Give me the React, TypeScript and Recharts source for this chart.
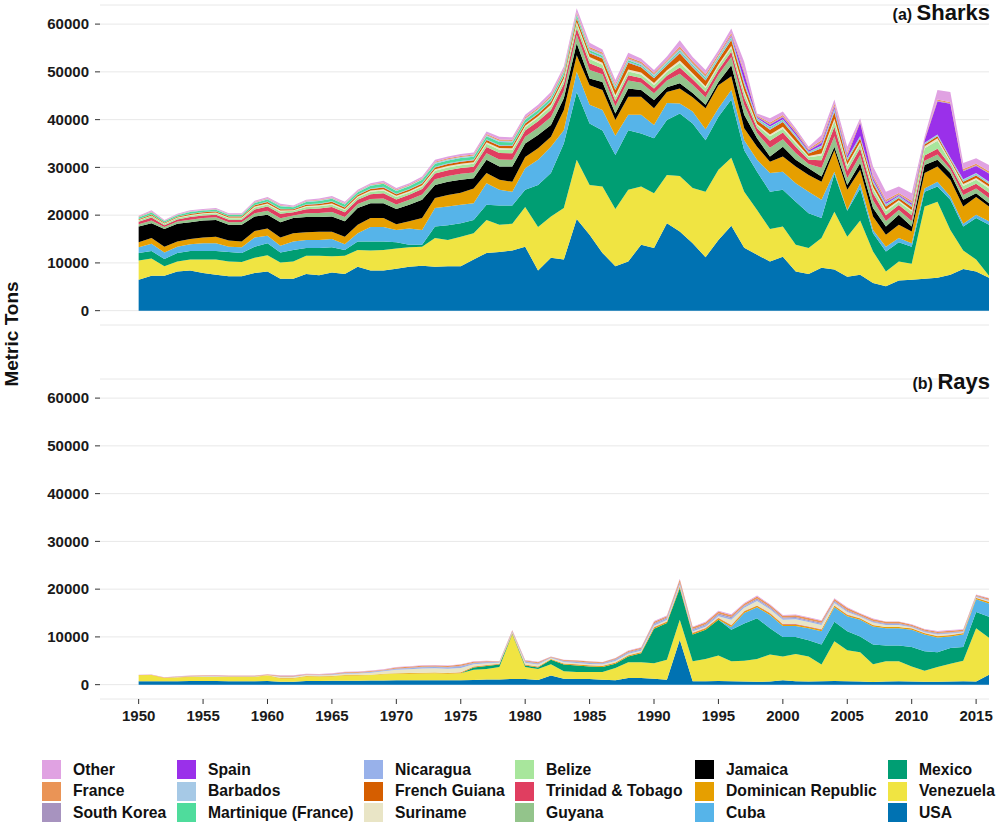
import { AreaChart, Area, XAxis, YAxis, CartesianGrid } from 'recharts';

const FONT = '"Liberation Sans", Arial, Helvetica, sans-serif';

const YEARS = [
  1950, 1951, 1952, 1953, 1954, 1955, 1956, 1957, 1958, 1959,
  1960, 1961, 1962, 1963, 1964, 1965, 1966, 1967, 1968, 1969,
  1970, 1971, 1972, 1973, 1974, 1975, 1976, 1977, 1978, 1979,
  1980, 1981, 1982, 1983, 1984, 1985, 1986, 1987, 1988, 1989,
  1990, 1991, 1992, 1993, 1994, 1995, 1996, 1997, 1998, 1999,
  2000, 2001, 2002, 2003, 2004, 2005, 2006, 2007, 2008, 2009,
  2010, 2011, 2012, 2013, 2014, 2015, 2016,
];
const X_TICKS = [1950, 1955, 1960, 1965, 1970, 1975, 1980, 1985, 1990, 1995, 2000, 2005, 2010, 2015];
const Y_TICKS = [0, 10000, 20000, 30000, 40000, 50000, 60000];

// stacking order, bottom first
const COUNTRIES = [
  'USA', 'Venezuela', 'Mexico', 'Cuba', 'Dominican Republic', 'Jamaica', 'Guyana',
  'Trinidad & Tobago', 'Belize', 'Suriname', 'French Guiana', 'Nicaragua',
  'Martinique (France)', 'Barbados', 'Spain', 'South Korea', 'France', 'Other',
];

const COLORS: Record<string, string> = {
  'USA': '#0072b2',
  'Venezuela': '#f0e442',
  'Mexico': '#009e73',
  'Cuba': '#56b4e9',
  'Dominican Republic': '#e69f00',
  'Jamaica': '#000000',
  'Guyana': '#93c48b',
  'Trinidad & Tobago': '#e03e60',
  'Belize': '#a8e69c',
  'Suriname': '#e9e5c6',
  'French Guiana': '#d55e00',
  'Nicaragua': '#98b1ea',
  'Martinique (France)': '#4fdc9c',
  'Barbados': '#a6c9e6',
  'Spain': '#9a30ea',
  'South Korea': '#a793bf',
  'France': '#ea9456',
  'Other': '#e0a2e2',
};

// ---- Sharks (metric tons) ----
const SHARK_USA = [
  6500, 7300, 7300, 8200, 8400, 7900, 7500, 7200, 7200, 7900,
  8200, 6700, 6700, 7700, 7400, 8000, 7700, 9200, 8400, 8400,
  8800, 9200, 9400, 9200, 9300, 9300, 10700, 12100, 12300, 12600,
  13400, 8400, 11100, 10700, 19200, 15900, 12100, 9300, 10300, 13800,
  13100, 18300, 16600, 14100, 11200, 14800, 17800, 13200, 11700, 10300,
  11300, 8200, 7700, 9000, 8600, 7100, 7500, 5800, 5100, 6300,
  6500, 6700, 6900, 7500, 8700, 8200, 6900,
];
const SHARK_VENEZUELA = [
  4000, 3600, 2000, 2100, 2300, 2800, 3200, 3100, 3000, 3200,
  3400, 3400, 3600, 3800, 4100, 3400, 3800, 3500, 4200, 4300,
  4200, 4100, 4000, 6000, 5500, 6200, 5500, 6900, 5700, 5600,
  8300, 9100, 8600, 10800, 12400, 10400, 13900, 12000, 15000, 12200,
  11500, 10100, 11600, 11600, 13700, 14700, 14200, 11700, 9400, 6800,
  6300, 5600, 5400, 6200, 12100, 8400, 11400, 6600, 3100, 4000,
  3300, 15100, 15900, 9400, 3900, 2500, 400,
];
const SHARK_MEXICO = [
  1600, 1600, 1500, 1800, 1800, 1800, 1800, 2000, 1900, 2300,
  2500, 2100, 2400, 1600, 1600, 1900, 1200, 1800, 1900, 1800,
  1300, 500, 400, 2400, 3100, 2800, 2800, 3200, 4000, 3800,
  3600, 8800, 9100, 13500, 14200, 12900, 11700, 11300, 12500, 11100,
  11500, 11500, 13100, 13500, 10800, 11100, 12200, 8700, 8000, 7800,
  7700, 9000, 7300, 4200, 7900, 5400, 6700, 3800, 4200, 4000,
  3600, 3100, 3200, 6300, 5000, 8700, 10700,
];
const SHARK_CUBA = [
  1200, 1500, 1400, 1300, 1400, 1600, 1600, 1100, 1200, 1900,
  1600, 1400, 1800, 1700, 1700, 1700, 1200, 1700, 3000, 3000,
  2600, 3400, 3100, 3900, 3900, 3900, 3500, 4500, 3300, 2900,
  4500, 5300, 5500, 2800, 4200, 3900, 4300, 4000, 3200, 3900,
  2800, 3600, 2100, 2500, 2300, 1800, 2000, 2100, 2500, 3900,
  3800, 3900, 4500, 3800, 500, 200, 1100, 700, 1000, 900,
  700, 700, 1000, 700, 600, 700, 700,
];
const SHARK_DOMINICAN = [
  1000, 1200, 1200, 1100, 1100, 1200, 1400, 1300, 1200, 1400,
  1500, 1700, 1700, 1600, 1700, 1500, 1600, 1800, 1900, 1900,
  1200, 1500, 2500, 2100, 2400, 2500, 3100, 2100, 2100, 2100,
  2400, 2400, 2100, 4200, 3500, 4100, 4200, 3300, 3800, 3800,
  3500, 2300, 3100, 3000, 4400, 4800, 2900, 2500, 2700, 2400,
  3200, 3500, 3500, 3800, 4500, 4200, 2800, 2800, 2500, 2800,
  2500, 3200, 3200, 3500, 3600, 3700, 3100,
];
const SHARK_JAMAICA = [
  3300, 3100, 3700, 3700, 3500, 3600, 3500, 3300, 3500, 3000,
  2900, 3200, 3200, 3200, 3100, 3200, 3200, 3500, 3100, 3100,
  3200, 3500, 3800, 2700, 2800, 2700, 2100, 2800, 2800, 3200,
  2800, 2800, 2500, 2500, 2500, 1400, 1700, 1400, 1700, 1400,
  1700, 1000, 1100, 900, 700, 700, 2300, 2800, 1800, 1100,
  2000, 1400, 1400, 1100, 700, 1000, 1400, 1800, 1700, 2100,
  1000, 1700, 1400, 1400, 1400, 800, 700,
];
const SHARK_GUYANA = [
  500, 600, 400, 450, 550, 500, 550, 500, 550, 700,
  800, 850, 550, 800, 850, 950, 900, 850, 900, 1000,
  950, 1000, 1100, 1200, 1200, 1250, 1250, 1350, 1450, 1400,
  1400, 1500, 1650, 1550, 1750, 1800, 1600, 1500, 1700, 1500,
  1400, 1400, 2000, 1700, 1600, 1500, 1700, 2100, 1100, 1800,
  1600, 1400, 900, 1800, 2200, 1500, 1700, 1600, 1200, 1000,
  1200, 900, 1100, 800, 1000, 1000, 1100,
];
const SHARK_TRINIDAD = [
  500, 600, 400, 450, 550, 550, 550, 550, 500, 800,
  900, 950, 650, 850, 950, 1050, 1000, 900, 1000, 1100,
  1050, 1050, 1150, 1200, 1200, 1200, 1200, 1300, 1350, 1350,
  1300, 1350, 1450, 1400, 1400, 1400, 1200, 1100, 1100, 1000,
  1000, 1000, 1300, 1150, 1100, 1000, 1100, 1500, 1000, 1500,
  1400, 1300, 900, 1600, 2000, 1500, 1400, 1500, 1200, 1000,
  1200, 1100, 1200, 800, 1100, 1000, 1100,
];
const SHARK_BELIZE = [
  300, 350, 250, 300, 300, 300, 300, 300, 300, 400,
  450, 450, 300, 450, 450, 500, 500, 450, 500, 550,
  500, 500, 550, 600, 600, 600, 600, 700, 700, 700,
  700, 750, 800, 800, 900, 900, 800, 800, 800, 750,
  750, 750, 1000, 850, 800, 750, 850, 1000, 600, 900,
  800, 700, 500, 1000, 1200, 900, 900, 900, 800, 700,
  800, 1500, 1700, 700, 800, 800, 900,
];
const SHARK_SURINAME = [
  100, 100, 100, 100, 150, 150, 150, 150, 150, 200,
  200, 200, 150, 200, 200, 250, 200, 200, 250, 250,
  250, 250, 250, 300, 300, 300, 300, 300, 350, 350,
  300, 300, 350, 350, 400, 400, 400, 400, 400, 400,
  400, 400, 500, 400, 400, 400, 400, 500, 300, 400,
  400, 400, 300, 400, 500, 400, 400, 400, 400, 300,
  300, 400, 500, 300, 400, 400, 400,
];
const SHARK_FRENCH_GUIANA = [
  150, 200, 150, 150, 200, 200, 200, 200, 200, 250,
  300, 300, 200, 300, 300, 350, 300, 300, 350, 400,
  350, 350, 400, 400, 400, 450, 450, 500, 500, 500,
  500, 550, 600, 600, 700, 800, 900, 1100, 1400, 1100,
  1000, 1000, 1500, 1200, 1200, 1000, 1200, 1200, 700, 1000,
  1000, 900, 500, 1100, 1400, 800, 800, 800, 600, 500,
  600, 400, 400, 300, 500, 500, 500,
];
const SHARK_NICARAGUA = [
  50, 50, 50, 50, 50, 50, 50, 50, 50, 100,
  100, 100, 50, 100, 100, 100, 100, 100, 100, 150,
  100, 150, 150, 150, 150, 150, 150, 150, 150, 150,
  150, 150, 200, 200, 200, 200, 200, 200, 200, 200,
  200, 200, 300, 250, 250, 200, 250, 300, 200, 250,
  250, 200, 150, 250, 300, 200, 200, 200, 200, 150,
  200, 150, 200, 150, 200, 200, 200,
];
const SHARK_MARTINIQUE = [
  300, 350, 250, 300, 350, 300, 350, 300, 300, 400,
  450, 500, 350, 450, 500, 550, 550, 500, 550, 600,
  550, 550, 600, 600, 600, 600, 600, 600, 600, 600,
  600, 550, 550, 500, 500, 450, 400, 400, 350, 300,
  300, 300, 300, 300, 300, 300, 300, 300, 200, 250,
  200, 200, 150, 200, 200, 200, 150, 200, 200, 150,
  150, 100, 100, 100, 150, 150, 150,
];
const SHARK_BARBADOS = [
  100, 100, 100, 100, 100, 100, 100, 100, 100, 100,
  150, 150, 100, 150, 150, 150, 150, 150, 150, 150,
  150, 150, 150, 200, 200, 200, 200, 200, 200, 200,
  200, 200, 200, 200, 200, 200, 200, 200, 200, 200,
  200, 200, 200, 200, 200, 200, 200, 200, 150, 150,
  150, 150, 100, 150, 200, 150, 100, 150, 150, 100,
  100, 100, 100, 100, 150, 150, 150,
];
const SHARK_SPAIN = [
  0, 0, 0, 0, 0, 0, 0, 0, 0, 0,
  0, 0, 0, 0, 0, 0, 0, 0, 0, 0,
  0, 0, 0, 0, 0, 0, 0, 0, 0, 0,
  0, 0, 0, 0, 0, 0, 0, 0, 0, 0,
  0, 0, 0, 0, 0, 0, 200, 1500, 200, 400,
  400, 400, 250, 500, 400, 500, 2850, 500, 300, 200,
  300, 500, 6900, 11300, 1700, 1500, 1700,
];
const SHARK_SOUTH_KOREA = [
  0, 0, 0, 0, 0, 0, 0, 0, 0, 0,
  0, 0, 0, 0, 0, 0, 0, 0, 0, 0,
  0, 0, 0, 50, 50, 50, 50, 100, 100, 100,
  100, 100, 100, 100, 150, 150, 150, 150, 150, 150,
  150, 150, 200, 150, 150, 150, 150, 200, 100, 150,
  150, 150, 100, 200, 200, 200, 100, 200, 200, 150,
  200, 100, 150, 100, 150, 150, 150,
];
const SHARK_FRANCE = [
  100, 100, 50, 50, 50, 50, 50, 50, 50, 100,
  100, 100, 50, 100, 100, 100, 100, 100, 100, 150,
  150, 150, 150, 200, 200, 200, 200, 200, 250, 250,
  250, 250, 300, 300, 300, 300, 300, 300, 300, 300,
  300, 300, 400, 400, 400, 350, 400, 400, 200, 300,
  300, 300, 200, 400, 500, 400, 200, 400, 350, 300,
  350, 200, 250, 200, 300, 300, 350,
];
const SHARK_OTHER = [
  200, 250, 150, 150, 200, 200, 200, 200, 200, 250,
  250, 300, 200, 200, 300, 300, 300, 250, 300, 350,
  350, 350, 400, 400, 400, 400, 400, 500, 550, 500,
  500, 600, 700, 600, 800, 900, 650, 850, 900, 700,
  600, 700, 1300, 900, 900, 750, 950, 1900, 450, 900,
  750, 500, 450, 1100, 800, 1250, 600, 1850, 1700, 1350,
  1600, 450, 2000, 2150, 1250, 1150, 1300,
];

// ---- Rays (metric tons) ----
const RAY_USA = [
  700, 700, 700, 700, 750, 750, 750, 700, 700, 700,
  750, 600, 600, 750, 750, 800, 800, 800, 850, 850,
  900, 900, 950, 950, 900, 900, 1000, 1100, 1100, 1200,
  1200, 1000, 1900, 1250, 1200, 1200, 1050, 900, 1400, 1400,
  1250, 1050, 9400, 700, 700, 750, 700, 650, 600, 650,
  900, 700, 650, 700, 750, 700, 650, 550, 650, 700,
  650, 600, 600, 650, 700, 650, 2100,
];
const RAY_VENEZUELA = [
  1250, 1300, 700, 800, 850, 850, 850, 900, 900, 900,
  1150, 700, 700, 950, 900, 900, 1100, 1100, 1150, 1350,
  1400, 1400, 1400, 1450, 1400, 1500, 2100, 2200, 2600, 9300,
  2500, 2300, 2400, 1550, 1450, 1450, 1600, 2600, 3300, 3300,
  3250, 4150, 4200, 4200, 4700, 5350, 4200, 4350, 4800, 5650,
  5000, 5700, 5250, 3500, 8350, 6500, 6150, 3750, 4250, 4200,
  3150, 2300, 3100, 3750, 4300, 11150, 7700,
];
const RAY_MEXICO = [
  0, 0, 0, 0, 0, 0, 0, 0, 0, 0,
  0, 0, 0, 0, 0, 0, 0, 0, 0, 0,
  0, 0, 0, 0, 0, 0, 500, 600, 500, 100,
  300, 300, 900, 1400, 1350, 1150, 1050, 900, 1200, 1900,
  7200, 7700, 6600, 5600, 6100, 7500, 6600, 7800, 8500, 5500,
  4100, 3600, 3400, 4200, 4100, 4000, 3300, 4100, 3300, 3300,
  4100, 4100, 3100, 3300, 2900, 3400, 4400,
];
const RAY_CUBA = [
  0, 0, 0, 0, 0, 0, 0, 0, 0, 0,
  0, 0, 0, 0, 0, 0, 0, 0, 0, 0,
  0, 0, 0, 0, 0, 0, 0, 0, 0, 0,
  0, 0, 0, 0, 0, 0, 0, 0, 0, 0,
  0, 0, 0, 0, 0, 0, 600, 2200, 2300, 2800,
  2300, 2300, 2500, 2800, 3000, 3100, 3500, 3800, 3600, 3600,
  3600, 3500, 3100, 2400, 2600, 2700, 2800,
];
const RAY_DOMINICAN = [
  50, 50, 50, 50, 50, 50, 50, 50, 50, 50,
  50, 100, 100, 100, 100, 100, 100, 100, 100, 100,
  100, 150, 150, 150, 150, 150, 150, 150, 150, 150,
  150, 150, 150, 200, 200, 200, 200, 200, 200, 200,
  250, 250, 300, 250, 250, 300, 300, 300, 300, 300,
  300, 300, 300, 300, 300, 300, 250, 250, 250, 250,
  250, 250, 250, 250, 250, 250, 300,
];
const RAY_TRINIDAD = [
  0, 0, 0, 0, 0, 0, 0, 0, 0, 0,
  0, 0, 0, 0, 0, 0, 0, 0, 0, 0,
  0, 0, 0, 0, 0, 50, 50, 50, 50, 50,
  50, 50, 50, 50, 50, 50, 50, 50, 50, 50,
  100, 100, 100, 100, 100, 100, 100, 100, 100, 100,
  100, 100, 100, 100, 100, 100, 50, 50, 50, 50,
  50, 50, 50, 50, 50, 50, 50,
];
const RAY_SURINAME = [
  0, 0, 0, 50, 50, 100, 100, 50, 50, 50,
  50, 200, 200, 200, 200, 250, 300, 350, 400, 500,
  700, 800, 900, 900, 900, 900, 500, 400, 200, 150,
  400, 400, 200, 300, 300, 300, 300, 300, 300, 250,
  300, 300, 300, 300, 300, 300, 1100, 700, 900, 800,
  900, 1000, 900, 900, 500, 500, 300, 500, 400, 400,
  200, 200, 300, 300, 200, 150, 200,
];
const RAY_NICARAGUA = [
  0, 0, 0, 50, 50, 50, 50, 50, 50, 50,
  50, 100, 100, 100, 100, 100, 100, 100, 150, 150,
  200, 200, 250, 250, 250, 300, 200, 150, 100, 150,
  200, 200, 100, 150, 200, 200, 200, 250, 250, 250,
  300, 300, 350, 300, 300, 350, 300, 300, 300, 250,
  250, 250, 250, 250, 250, 250, 200, 200, 200, 200,
  150, 150, 150, 150, 150, 150, 150,
];
const RAY_SOUTH_KOREA = [
  0, 0, 0, 0, 0, 0, 0, 0, 0, 0,
  0, 0, 0, 0, 0, 50, 50, 50, 50, 50,
  100, 100, 100, 100, 100, 150, 100, 100, 50, 100,
  100, 100, 50, 100, 100, 100, 100, 150, 150, 150,
  200, 200, 250, 200, 200, 250, 250, 200, 250, 250,
  200, 200, 200, 200, 200, 200, 150, 150, 150, 150,
  150, 150, 150, 150, 100, 100, 100,
];
const RAY_FRANCE = [
  50, 50, 50, 50, 100, 100, 100, 100, 100, 100,
  100, 150, 150, 100, 100, 100, 150, 150, 150, 150,
  200, 200, 200, 200, 200, 250, 200, 150, 100, 150,
  150, 200, 100, 150, 200, 200, 150, 200, 200, 250,
  350, 300, 500, 350, 350, 400, 400, 350, 400, 400,
  400, 400, 400, 400, 400, 400, 300, 350, 300, 300,
  250, 250, 300, 300, 250, 200, 250,
];
const RAY_OTHER = [
  50, 50, 50, 50, 50, 50, 100, 50, 50, 50,
  50, 100, 100, 100, 100, 100, 100, 100, 100, 100,
  100, 100, 100, 100, 100, 100, 100, 100, 50, 100,
  100, 100, 50, 50, 50, 50, 50, 50, 100, 100,
  150, 150, 200, 150, 150, 200, 200, 150, 200, 150,
  150, 150, 150, 150, 150, 150, 100, 150, 100, 100,
  100, 100, 150, 150, 100, 100, 100,
];

const SHARKS: Record<string, number[]> = {
  'USA': SHARK_USA,
  'Venezuela': SHARK_VENEZUELA,
  'Mexico': SHARK_MEXICO,
  'Cuba': SHARK_CUBA,
  'Dominican Republic': SHARK_DOMINICAN,
  'Jamaica': SHARK_JAMAICA,
  'Guyana': SHARK_GUYANA,
  'Trinidad & Tobago': SHARK_TRINIDAD,
  'Belize': SHARK_BELIZE,
  'Suriname': SHARK_SURINAME,
  'French Guiana': SHARK_FRENCH_GUIANA,
  'Nicaragua': SHARK_NICARAGUA,
  'Martinique (France)': SHARK_MARTINIQUE,
  'Barbados': SHARK_BARBADOS,
  'Spain': SHARK_SPAIN,
  'South Korea': SHARK_SOUTH_KOREA,
  'France': SHARK_FRANCE,
  'Other': SHARK_OTHER,
};

const RAYS: Record<string, number[]> = {
  'USA': RAY_USA,
  'Venezuela': RAY_VENEZUELA,
  'Mexico': RAY_MEXICO,
  'Cuba': RAY_CUBA,
  'Dominican Republic': RAY_DOMINICAN,
  'Trinidad & Tobago': RAY_TRINIDAD,
  'Suriname': RAY_SURINAME,
  'Nicaragua': RAY_NICARAGUA,
  'South Korea': RAY_SOUTH_KOREA,
  'France': RAY_FRANCE,
  'Other': RAY_OTHER,
};

const LEGEND_COLUMNS = [
  ['Other', 'France', 'South Korea'],
  ['Spain', 'Barbados', 'Martinique (France)'],
  ['Nicaragua', 'French Guiana', 'Suriname'],
  ['Belize', 'Trinidad & Tobago', 'Guyana'],
  ['Jamaica', 'Dominican Republic', 'Cuba'],
  ['Mexico', 'Venezuela', 'USA'],
];
const LEGEND_X = [42, 177, 364, 515, 695, 888];

function buildRows(src: Record<string, number[]>) {
  return YEARS.map((year, i) => {
    const row: Record<string, number> = { year };
    Object.keys(src).forEach(k => { row[k] = src[k][i]; });
    return row;
  });
}

const tickStyle = { fill: '#1a1a1a', fontSize: 15, fontWeight: 700, fontFamily: FONT };

function StackPanel({ src, showX, height, margin }: any) {
  const rows = buildRows(src);
  const keys = COUNTRIES.filter(c => src[c]);
  return (
    <AreaChart width={998} height={height} data={rows} margin={margin}>
      <CartesianGrid vertical={false} stroke="#e8e8e8" strokeWidth={1} />
      <XAxis type="number" dataKey="year" domain={[1947, 2016]} ticks={X_TICKS}
        hide={!showX} height={30} axisLine={false} tickLine={{ stroke: '#333' }}
        tickSize={5} tickMargin={6} tick={tickStyle} interval={0} />
      <YAxis type="number" domain={[-3000, 64000]} ticks={Y_TICKS} width={100}
        axisLine={false} tickLine={{ stroke: '#333' }} tickSize={5} tickMargin={6}
        tick={tickStyle} interval={0} allowDataOverflow />
      {keys.map(k => (
        <Area key={k} type="linear" dataKey={k} stackId="1" stroke="none"
          fill={COLORS[k]} fillOpacity={1} isAnimationActive={false}
          dot={false} activeDot={false} />
      ))}
    </AreaChart>
  );
}

function PanelTitle({ tag, name, top }: { tag: string; name: string; top: number }) {
  return (
    <div style={{ position: 'absolute', right: 8, top, fontFamily: FONT, fontWeight: 700, color: '#111', whiteSpace: 'nowrap' }}>
      <span style={{ fontSize: 16 }}>{tag} </span>
      <span style={{ fontSize: 22 }}>{name}</span>
    </div>
  );
}

export default function App() {
  return (
    <div style={{ position: 'absolute', left: 0, top: 0, width: 998, height: 825, background: '#fff', overflow: 'hidden' }}>
      <div style={{ position: 'absolute', left: 0, top: 0 }}>
        <StackPanel src={SHARKS} showX={false} height={330} margin={{ top: 5, right: 9, bottom: 5, left: 0 }} />
      </div>
      <div style={{ position: 'absolute', left: 0, top: 370 }}>
        <StackPanel src={RAYS} showX={true} height={360} margin={{ top: 9, right: 9, bottom: 1, left: 0 }} />
      </div>

      <PanelTitle tag="(a)" name="Sharks" top={0} />
      <PanelTitle tag="(b)" name="Rays" top={369} />

      <div style={{
        position: 'absolute', left: 12, top: 334, transform: 'translate(-50%, -50%) rotate(-90deg)',
        fontFamily: FONT, fontWeight: 700, fontSize: 19, color: '#111', whiteSpace: 'nowrap',
      }}>
        Metric Tons
      </div>

      {LEGEND_COLUMNS.map((col, ci) => col.map((name, ri) => (
        <div key={name} style={{ position: 'absolute', left: LEGEND_X[ci], top: 760 + ri * 21.5, display: 'flex', alignItems: 'center' }}>
          <div style={{ width: 19, height: 19, background: COLORS[name] }} />
          <span style={{ marginLeft: 12, fontFamily: FONT, fontWeight: 700, fontSize: 15.7, color: '#111', whiteSpace: 'nowrap' }}>{name}</span>
        </div>
      )))}
    </div>
  );
}
